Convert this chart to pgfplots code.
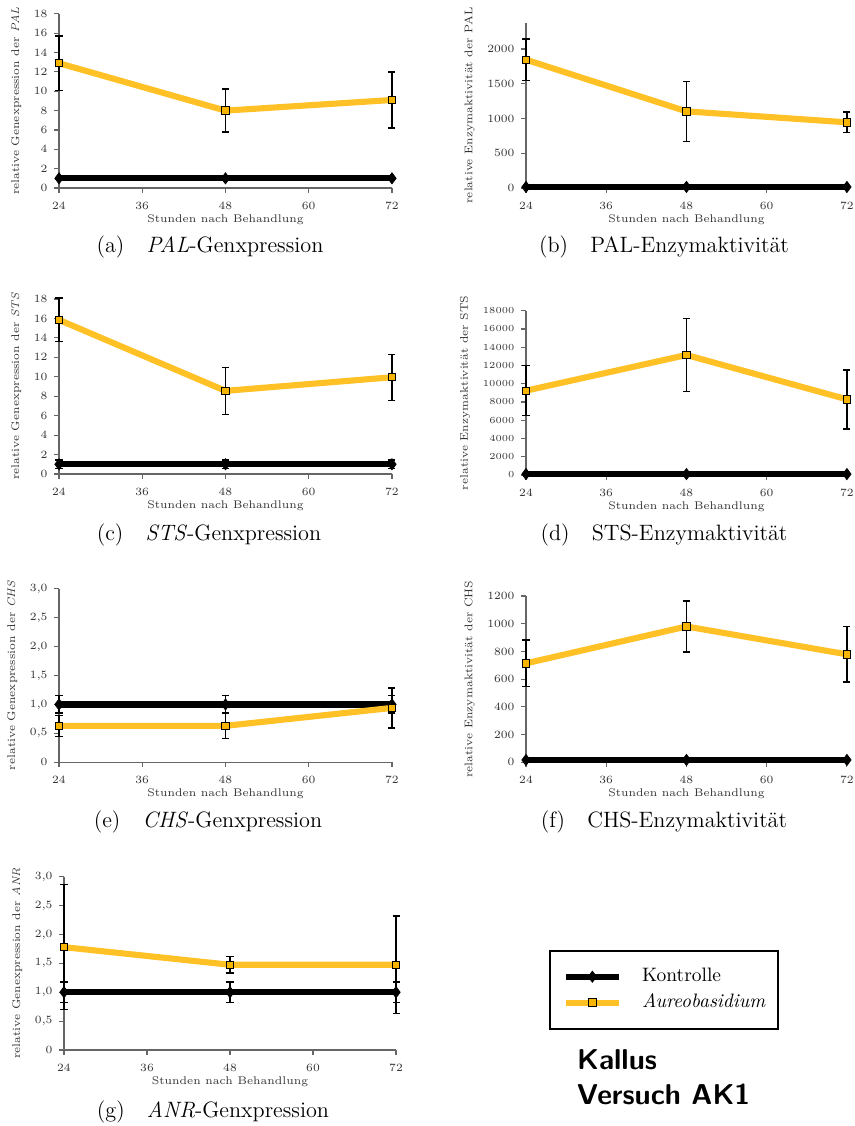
\documentclass[border=0pt]{standalone}
\usepackage{pgfplots}
\pgfplotsset{compat=1.18}
\definecolor{aureo}{HTML}{FFC125}
\definecolor{aureofill}{HTML}{F7B500}
\newcommand\axfont{\fontsize{6}{7}\selectfont}
\pgfplotsset{
  panel/.style={scale only axis, axis lines*=left, xmin=24, xmax=72,
    xtick={24,36,48,60,72}, tick align=outside, major tick length=2.7pt,
    axis line style={black!60, line width=0.6pt},
    every tick/.style={black!60, line width=0.6pt},
    ticklabel style={font=\axfont, text=black!80},
    xticklabel style={yshift=-1.5pt},
    label style={font=\axfont, text=black!80},
    xlabel={Stunden nach Behandlung},
    xlabel style={at={(axis description cs:0.5,0)}, anchor=base, yshift=-18.7pt},
    clip=false,
    /pgf/number format/1000 sep={}, scaled y ticks=false},
  wide/.style={panel, width=179.8pt},
  narrow/.style={panel, width=173.3pt},
  kon/.style={black, line width=3.3pt, mark=diamond*, mark size=3pt,
    mark options={solid, fill=black, line width=0.4pt},
    error bars/.cd, y dir=both, y explicit,
    error bar style={black, line width=0.75pt},
    error mark options={rotate=90, black, mark size=1.9pt, line width=0.75pt}},
  aur/.style={aureo, line width=3.3pt, mark=square*, mark size=2pt,
    mark options={solid, fill=aureofill, draw=black, line width=0.5pt},
    error bars/.cd, y dir=both, y explicit,
    error bar style={black, line width=0.75pt},
    error mark options={rotate=90, black, mark size=1.9pt, line width=0.75pt}},
  legend image code/.code={\draw[mark repeat=2,mark phase=2]
    plot coordinates {(0cm,0cm) (0.5cm,0cm) (1cm,0cm)};},
}
\tikzset{subcap/.style={anchor=base, font=\fontsize{12}{14}\selectfont}}
% positions: reference pixels times 0.54pt

\begin{document}
\begin{tikzpicture}
\useasboundingbox (0pt,0pt) rectangle (461.16pt,608.04pt);

% (a)
\begin{axis}[wide, at={(31.86pt,506.52pt)}, anchor=south west, height=94pt,
  ymin=0, ymax=18, ytick={0,2,...,18},
  ylabel={relative Genexpression der \textit{PAL}}]
\addplot[kon] coordinates {(24,1) +- (0,0.1) (48,1) +- (0,0.1) (72,1) +- (0,0.1)};
\addplot[aur] coordinates {(24,12.9) +- (0,2.8) (48,8.0) +- (0,2.23) (72,9.1) +- (0,2.9)};
\end{axis}
\node[subcap] at (113.4pt,471.42pt) {(a)\quad\textit{PAL}-Genxpression};

% (b)
\begin{axis}[narrow, at={(284.04pt,506.52pt)}, anchor=south west, height=89.3pt,
  ymin=0, ymax=2380, ytick={0,500,...,2000},
  ylabel={relative Enzymaktivität der PAL}]
\addplot[kon] coordinates {(24,15) +- (0,3) (48,15) +- (0,3) (72,15) +- (0,3)};
\addplot[aur] coordinates {(24,1846) +- (0,298) (48,1103) +- (0,432) (72,945) +- (0,150)};
\end{axis}
\node[subcap] at (358.56pt,471.42pt) {(b)\quad PAL-Enzymaktivität};

% (c)
\begin{axis}[wide, at={(31.86pt,352.08pt)}, anchor=south west, height=94.5pt,
  ymin=0, ymax=18, ytick={0,2,...,18},
  ylabel={relative Genexpression der \textit{STS}}]
\addplot[kon] coordinates {(24,1) +- (0,0.45) (48,1) +- (0,0.45) (72,1) +- (0,0.45)};
\addplot[aur] coordinates {(24,15.85) +- (0,2.25) (48,8.55) +- (0,2.42) (72,9.95) +- (0,2.37)};
\end{axis}
\node[subcap] at (112.86pt,315.9pt) {(c)\quad\textit{STS}-Genxpression};

% (d)
\begin{axis}[narrow, at={(284.04pt,351.54pt)}, anchor=south west, height=88.7pt,
  ymin=0, ymax=18000, ytick={0,2000,...,18000},
  yticklabel style={font=\fontsize{5.5}{6}\selectfont},
  ylabel={relative Enzymaktivität der STS}]
\addplot[kon] coordinates {(24,100) +- (0,30) (48,100) +- (0,30) (72,100) +- (0,30)};
\addplot[aur] coordinates {(24,9240) +- (0,2740) (48,13150) +- (0,4016) (72,8290) +- (0,3230)};
\end{axis}
\node[subcap] at (358.56pt,315.9pt) {(d)\quad STS-Enzymaktivität};

% (e)
\begin{axis}[wide, at={(31.86pt,196.4pt)}, anchor=south west, height=93.7pt,
  ymin=0, ymax=3, ytick={0,0.5,1,1.5,2,2.5,3},
  yticklabels={0,{0,5},{1,0},{1,5},{2,0},{2,5},{3,0}},
  ylabel={relative Genexpression der \textit{CHS}}]
\addplot[kon] coordinates {(24,1) +- (0,0.15) (48,1) +- (0,0.15) (72,1) +- (0,0.15)};
\addplot[aur] coordinates {(24,0.63) +- (0,0.18) (48,0.63) +- (0,0.22) (72,0.94) +- (0,0.345)};
\end{axis}
\node[subcap] at (112.32pt,160.92pt) {(e)\quad\textit{CHS}-Genxpression};

% (f)
\begin{axis}[narrow, at={(284.04pt,196.4pt)}, anchor=south west, height=89.8pt,
  ymin=0, ymax=1200, ytick={0,200,...,1200},
  ylabel={relative Enzymaktivität der CHS}]
\addplot[kon] coordinates {(24,17) +- (0,3) (48,17) +- (0,3) (72,17) +- (0,3)};
\addplot[aur] coordinates {(24,714) +- (0,168) (48,980) +- (0,184) (72,779) +- (0,200)};
\end{axis}
\node[subcap] at (358.56pt,160.92pt) {(f)\quad CHS-Enzymaktivität};

% (g) with the legend
\begin{axis}[panel, width=179.3pt, at={(34.56pt,41.04pt)}, anchor=south west, height=93.6pt,
  ymin=0, ymax=3, ytick={0,0.5,1,1.5,2,2.5,3},
  yticklabels={0,{0,5},{1,0},{1,5},{2,0},{2,5},{3,0}},
  ylabel={relative Genexpression der \textit{ANR}},
  legend cell align=left,
  legend style={at={(1.808,0.348)}, anchor=center, draw=black, line width=1.1pt,
    font=\fontsize{10.5}{12}\selectfont, inner xsep=6.8pt, inner ysep=9pt,
    row sep=4pt, column sep=11pt,
    nodes={inner sep=0pt, text height=7.5pt, text depth=2.5pt}}]
\addplot[kon] coordinates {(24,1) +- (0,0.18) (48,1) +- (0,0.18) (72,1) +- (0,0.18)};
\addlegendentry{Kontrolle}
\addplot[aur] coordinates {(24,1.78) +- (0,1.08) (48,1.475) +- (0,0.145) (72,1.475) +- (0,0.845)};
\addlegendentry{\textit{Aureobasidium}}
\end{axis}
\node[subcap] at (115.02pt,4.32pt) {(g)\quad\textit{ANR}-Genxpression};

\node[anchor=base west, inner sep=0pt, font=\fontsize{15.5}{19}\sffamily\bfseries] at (311.42pt,30.78pt) {Kallus};
\node[anchor=base west, inner sep=0pt, font=\fontsize{15.5}{19}\sffamily\bfseries] at (311.42pt,11.34pt) {Versuch AK1};
\end{tikzpicture}
\end{document}
